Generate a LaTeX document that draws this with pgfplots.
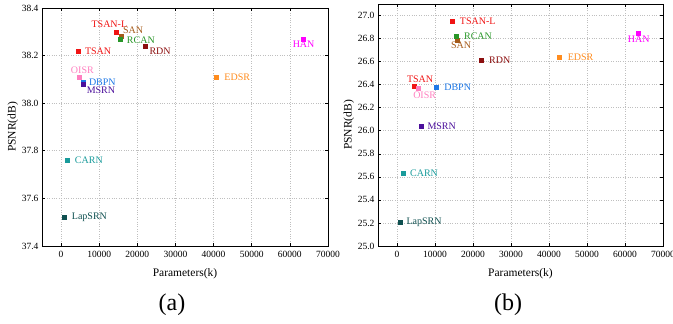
\documentclass[border=0pt]{standalone}
\usepackage{fontspec}
\setmainfont{Liberation Serif}
\usepackage{pgfplots}
\pgfplotsset{compat=1.18}
\definecolor{tsanc}{RGB}{240,20,20}
\definecolor{sanc}{RGB}{165,90,25}
\definecolor{rcanc}{RGB}{40,150,40}
\definecolor{rdnc}{RGB}{140,15,15}
\definecolor{hanc}{RGB}{255,0,255}
\definecolor{edsrc}{RGB}{255,140,30}
\definecolor{oisrc}{RGB}{255,128,192}
\definecolor{dbpnc}{RGB}{30,120,230}
\definecolor{msrnc}{RGB}{75,15,155}
\definecolor{carnc}{RGB}{25,155,155}
\definecolor{lapc}{RGB}{15,80,80}
\newcommand{\pt}[5]{%
  \addplot[only marks, mark=square*, mark size=2pt, color=#3,
    nodes near coords={#4},
    nodes near coords style={font=\fontsize{10}{11}\selectfont, text=#3, inner sep=2pt, #5}]
    coordinates {(#1,#2)};}
\pgfplotsset{myax/.style={
  scale only axis, width=286pt,
  xmin=-5000, xmax=70000, xtick={0,10000,...,70000},
  grid=major, grid style={dotted, gray!50, line width=0.6pt},
  tick align=inside, axis line style={line width=0.9pt},
  tick style={black, line width=0.6pt}, major tick length=3pt,
  scaled x ticks=false,
  xticklabel style={yshift=-2pt, /pgf/number format/.cd, fixed, 1000 sep={}},
  yticklabel style={/pgf/number format/.cd, fixed, fixed zerofill, precision=1},
  /pgf/number format/assume math mode=true,
  ticklabel style={font=\fontsize{9.5}{10}\selectfont},
  label style={font=\fontsize{11.5}{12}\selectfont},
  xlabel style={yshift=-4pt}, ylabel style={yshift=-3pt},
  xlabel={Parameters(k)}, ylabel={PSNR(dB)},
  clip=false}}
\begin{document}
\begin{tikzpicture}
\begin{axis}[myax, height=238pt, at={(0pt,0pt)}, anchor=south west,
  ymin=37.4, ymax=38.4, ytick={37.4,37.6,...,38.41}]
\pt{700}{37.52}{lapc}{LapSRN}{anchor=west, xshift=6pt}
\pt{1500}{37.76}{carnc}{CARN}{anchor=west, xshift=6pt}
\pt{4400}{38.22}{tsanc}{TSAN}{anchor=west, xshift=5pt}
\pt{4800}{38.11}{oisrc}{OISR}{anchor=south, xshift=3pt, yshift=1pt}
\pt{5700}{38.09}{dbpnc}{DBPN}{anchor=west, xshift=4pt}
\pt{5900}{38.08}{msrnc}{MSRN}{anchor=north west, xshift=1pt, yshift=-1pt}
\pt{14500}{38.30}{tsanc}{TSAN-L}{anchor=south, xshift=-7pt, yshift=2pt}
\pt{15700}{38.28}{sanc}{SAN}{anchor=south west, xshift=0pt, yshift=0.5pt}
\pt{15400}{38.27}{rcanc}{RCAN}{anchor=west, xshift=5pt, yshift=-1pt}
\pt{22100}{38.24}{rdnc}{RDN}{anchor=north west, xshift=2pt}
\pt{40700}{38.11}{edsrc}{EDSR}{anchor=west, xshift=6pt}
\pt{63600}{38.27}{hanc}{HAN}{anchor=north}
\end{axis}
\begin{axis}[myax, width=285pt, height=242pt, at={(336pt,0pt)}, anchor=south west,
  ymin=25.0, ymax=27.1, ytick={25.0,25.2,...,27.01}]
\pt{900}{25.21}{lapc}{LapSRN}{anchor=west, xshift=4pt}
\pt{1700}{25.63}{carnc}{CARN}{anchor=west, xshift=4.5pt}
\pt{4500}{26.39}{tsanc}{TSAN}{anchor=south, xshift=6pt, yshift=1pt}
\pt{5700}{26.37}{oisrc}{OISR}{anchor=north, xshift=6pt, yshift=-2pt}
\pt{6400}{26.04}{msrnc}{MSRN}{anchor=west, xshift=4pt}
\pt{10300}{26.38}{dbpnc}{DBPN}{anchor=west, xshift=6pt}
\pt{14400}{26.95}{tsanc}{TSAN-L}{anchor=west, xshift=6pt}
\pt{15800}{26.79}{sanc}{SAN}{anchor=north, xshift=4pt}
\pt{15500}{26.82}{rcanc}{RCAN}{anchor=west, xshift=6pt}
\pt{22100}{26.61}{rdnc}{RDN}{anchor=west, xshift=6pt}
\pt{42800}{26.64}{edsrc}{EDSR}{anchor=west, xshift=6pt}
\pt{63600}{26.85}{hanc}{HAN}{anchor=north, yshift=-1pt}
\end{axis}
\node[font=\fontsize{24}{26}\selectfont] at (130pt,-59pt) {(a)};
\node[font=\fontsize{24}{26}\selectfont] at (466pt,-59pt) {(b)};
\pgfresetboundingbox
\useasboundingbox (-42pt,-78pt) rectangle (631pt,246pt);
\end{tikzpicture}
\end{document}
